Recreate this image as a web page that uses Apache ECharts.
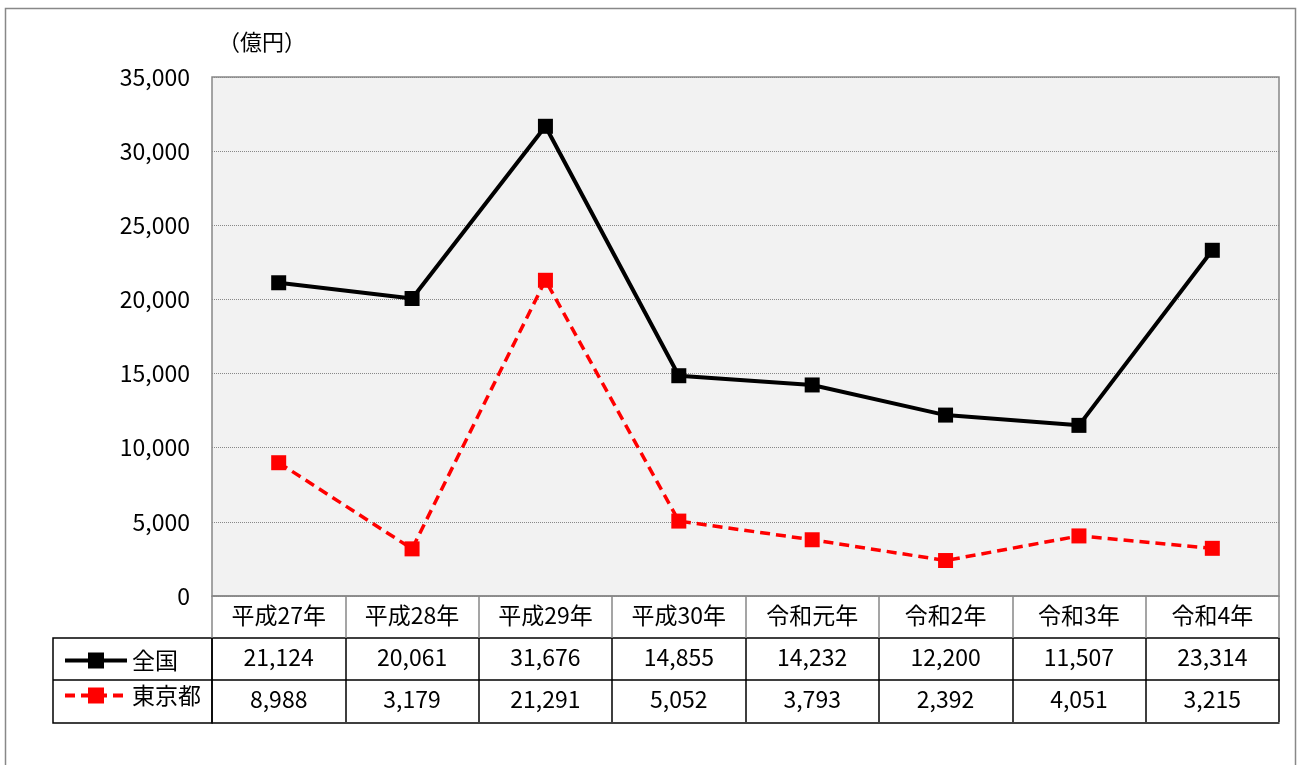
<!DOCTYPE html>
<html>
<head>
<meta charset="utf-8">
<script src="https://cdn.jsdelivr.net/npm/echarts@6/dist/echarts.min.js"></script>
<style>
  html, body { margin: 0; padding: 0; background: #fff; }
  #main { width: 1302px; height: 765px; }
</style>
</head>
<body>
<div id="main"></div>
<script>
// データ
var years = ["平成27年", "平成28年", "平成29年", "平成30年", "令和元年", "令和2年", "令和3年", "令和4年"];
var zenkoku = [21124, 20061, 31676, 14855, 14232, 12200, 11507, 23314];
var tokyo = [8988, 3179, 21291, 5052, 3793, 2392, 4051, 3215];

var FONT = "'Noto Sans CJK JP', 'Noto Sans', sans-serif";

function fmt(v) {
    return v.toLocaleString("en-US");
}

var myChart = echarts.init(document.getElementById("main"));

// 表の行（軸を使って描く）
function tableAxis(data, offset, color) {
    return {
        type: "category",
        position: "bottom",
        offset: offset,
        data: data,
        axisLine: { show: true, lineStyle: { color: color, width: 1.5 } },
        axisTick: { show: true, length: 42, lineStyle: { color: color, width: 1.5 } },
        axisLabel: { color: "#000", fontSize: 23, fontFamily: FONT, margin: 8, interval: 0 }
    };
}

var option = {
    animation: false,
    backgroundColor: "#fff",
    textStyle: { fontFamily: FONT },
    grid: {
        left: 212,
        right: 23,
        top: 77,
        bottom: 169,
        show: true,
        backgroundColor: "#f2f2f2",
        borderColor: "#888",
        borderWidth: 1.5
    },
    legend: {
        orient: "vertical",
        left: 58,
        top: 644,
        itemWidth: 62,
        itemHeight: 20,
        itemGap: 12,
        lineStyle: { width: 4 },
        textStyle: { fontSize: 23, color: "#000", fontFamily: FONT },
        data: ["全国", "東京都"]
    },
    xAxis: [
        tableAxis(years, 0, "#888"),
        tableAxis(zenkoku.map(fmt), 42, "#000"),
        tableAxis(tokyo.map(fmt), 84, "#000"),
        {
            type: "category",
            position: "bottom",
            offset: 127,
            data: years,
            axisLine: { show: true, lineStyle: { color: "#000", width: 1.5 } },
            axisTick: { show: false },
            axisLabel: { show: false }
        }
    ],
    yAxis: {
        type: "value",
        min: 0,
        max: 35000,
        interval: 5000,
        name: "（億円）",
        nameLocation: "end",
        nameGap: 24,
        nameTextStyle: { color: "#000", fontSize: 22, fontFamily: FONT, align: "left", padding: [0, 0, 0, 6] },
        axisLine: { show: false },
        axisTick: { show: false },
        splitLine: { lineStyle: { color: "#888", type: "dotted", width: 1 } },
        axisLabel: {
            color: "#000",
            fontSize: 23,
            fontFamily: FONT,
            margin: 22,
            formatter: function (v) { return fmt(v); }
        }
    },
    series: [
        {
            name: "全国",
            type: "line",
            data: zenkoku,
            symbol: "rect",
            symbolSize: 15,
            itemStyle: { color: "#000" },
            lineStyle: { color: "#000", width: 4 },
            z: 3
        },
        {
            name: "東京都",
            type: "line",
            data: tokyo,
            symbol: "rect",
            symbolSize: 15,
            itemStyle: { color: "#ff0000" },
            lineStyle: { color: "#ff0000", width: 3.5, type: [10, 6] },
            z: 2
        }
    ],
    graphic: [
        // 外枠
        {
            type: "rect",
            shape: { x: 5.5, y: 8.5, width: 1290, height: 800 },
            style: { fill: "none", stroke: "#888", lineWidth: 1.5 },
            silent: true
        },
        // 凡例欄
        {
            type: "rect",
            shape: { x: 53, y: 638, width: 159, height: 85 },
            style: { fill: "none", stroke: "#000", lineWidth: 1.5 },
            silent: true
        },
        {
            type: "line",
            shape: { x1: 53, y1: 680, x2: 212, y2: 680 },
            style: { stroke: "#000", lineWidth: 1.5 },
            silent: true
        }
    ]
};

myChart.setOption(option);
window.addEventListener("resize", function () {
    myChart.resize();
});
</script>
</body>
</html>
